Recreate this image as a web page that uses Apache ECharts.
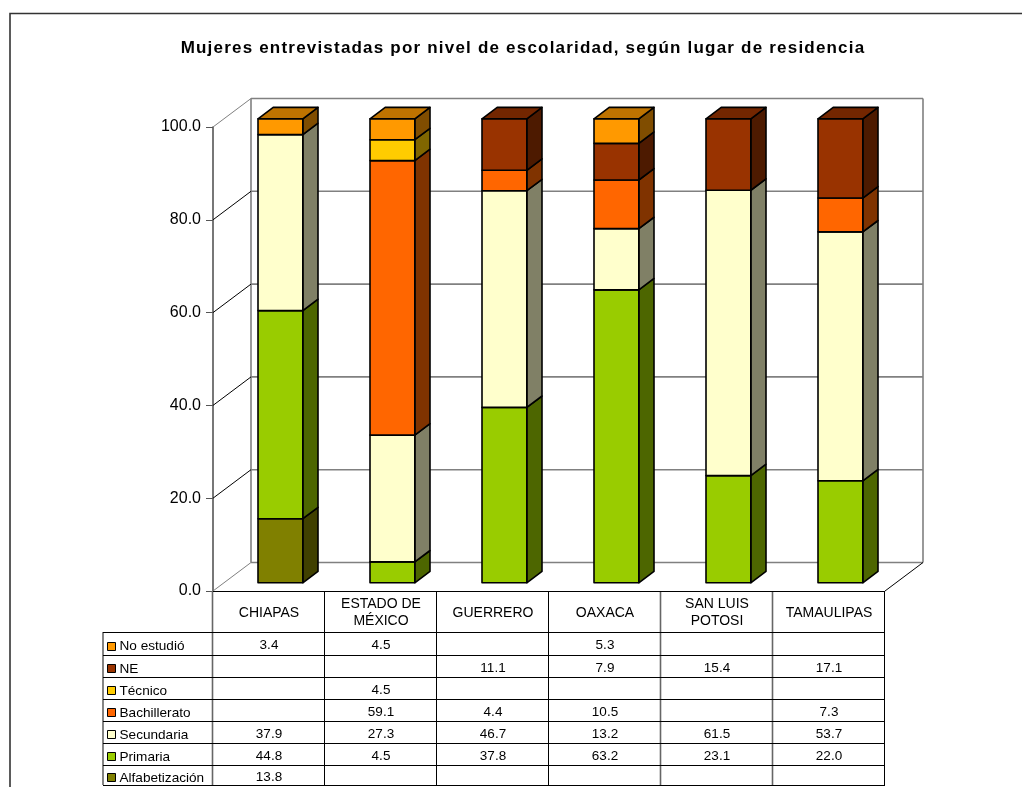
<!DOCTYPE html>
<html><head><meta charset="utf-8">
<style>html,body{margin:0;padding:0;background:#fff;overflow:hidden}#c{width:1022px;height:787px}</style>
<script src="https://cdn.jsdelivr.net/npm/echarts@6/dist/echarts.min.js"></script>
</head><body><div id="c"></div>
<script>
const titleText = 'Mujeres entrevistadas por nivel de escolaridad, según lugar de residencia';
const categories = ['CHIAPAS','ESTADO DE\nMÉXICO','GUERRERO','OAXACA','SAN LUIS\nPOTOSI','TAMAULIPAS'];
const yTicks = [0,20,40,60,80,100];
const alfabetizacion = [13.8,null,null,null,null,null];
const primaria = [44.8,4.5,37.8,63.2,23.1,22.0];
const secundaria = [37.9,27.3,46.7,13.2,61.5,53.7];
const bachillerato = [null,59.1,4.4,10.5,null,7.3];
const tecnico = [null,4.5,null,null,null,null];
const ne = [null,null,11.1,7.9,15.4,17.1];
const noEstudio = [3.4,4.5,null,5.3,null,null];
const levels = [
  {name:'Alfabetización',values:alfabetizacion,color:'#808000'},
  {name:'Primaria',values:primaria,color:'#99CC00'},
  {name:'Secundaria',values:secundaria,color:'#FFFFCC'},
  {name:'Bachillerato',values:bachillerato,color:'#FF6600'},
  {name:'Técnico',values:tecnico,color:'#FFCC00'},
  {name:'NE',values:ne,color:'#993300'},
  {name:'No estudió',values:noEstudio,color:'#FF9900'}
];
const DX=38, DY=28.5, GL=213, GT=127, GW=672, GH=464;
const rowLines=[632,655,677,699,721,743,765,785];
// the reference title is set with wide tracking, which the text style has no option for
const baseFillText=CanvasRenderingContext2D.prototype.fillText;
CanvasRenderingContext2D.prototype.fillText=function(t,x,y,m){
  this.letterSpacing=(t===titleText)?'1.2px':'0px';
  return m===undefined?baseFillText.call(this,t,x,y):baseFillText.call(this,t,x,y,m);
};
function shade(hex,k){
  const n=parseInt(hex.slice(1),16);
  return 'rgb('+[(n>>16)&255,(n>>8)&255,n&255].map(v=>Math.round(v*k)).join(',')+')';
}
const totals=categories.map((_,i)=>levels.reduce((s,l)=>s+(l.values[i]||0),0));
const running=categories.map(()=>0);
const barSeries=levels.map(l=>{
  const data=[];
  l.values.forEach((v,i)=>{
    if(v==null)return;
    const a=running[i];running[i]+=v;
    data.push([i,a/totals[i]*100,running[i]/totals[i]*100]);
  });
  return {name:l.name,type:'custom',coordinateSystem:'cartesian2d',silent:true,z:3,data,
    encode:{x:0,y:[1,2]},
    renderItem(p,api){
      const c=api.coord([api.value(0),api.value(1)]);
      const t=api.coord([api.value(0),api.value(2)]);
      const w=api.size([1,0])[0]*0.4;
      const ox=DX*0.3,oy=-8.2,dx=DX*0.4,dy=-DY*0.4;
      const L=c[0]-w/2+ox,R=L+w,B=c[1]+oy,T=t[1]+oy;
      const st={stroke:'#000',lineWidth:1.6,lineJoin:'round'};
      const isTop=Math.abs(api.value(2)-100)<1e-6;
      const kids=[
        {type:'polygon',shape:{points:[[R,B],[R+dx,B+dy],[R+dx,T+dy],[R,T]]},style:{...st,fill:shade(l.color,0.5)}},
        {type:'polygon',shape:{points:[[L,B],[R,B],[R,T],[L,T]]},style:{...st,fill:l.color}}
      ];
      if(isTop)kids.push({type:'polygon',shape:{points:[[L,T],[R,T],[R+dx,T+dy],[L+dx,T+dy]]},style:{...st,fill:shade(l.color,0.75)}});
      return {type:'group',children:kids};
    }};
});
const wallSeries={type:'custom',coordinateSystem:'cartesian2d',silent:true,z:1,
  data:yTicks.map(v=>[0,v]),encode:{x:0,y:1},
  renderItem(p,api){
    const g=p.coordSys,v=api.value(1),y=api.coord([0,v])[1];
    const x0=g.x,x1=g.x+g.width;
    const edge=(v===0||v===100);
    const kids=[
      {type:'line',shape:{x1:x0+DX,y1:y-DY,x2:x1+DX,y2:y-DY},style:{stroke:'#808080',lineWidth:1.6}},
      {type:'line',shape:{x1:x0,y1:y,x2:x0+DX,y2:y-DY},style:{stroke:edge?'#808080':'#000',lineWidth:1}}
    ];
    if(v===0){
      kids.push({type:'line',shape:{x1:x0+DX,y1:y-DY,x2:x0+DX,y2:g.y-DY},style:{stroke:'#808080',lineWidth:1.6}});
      kids.push({type:'line',shape:{x1:x1+DX,y1:y-DY,x2:x1+DX,y2:g.y-DY},style:{stroke:'#808080',lineWidth:1.6}});
      kids.push({type:'line',shape:{x1:x1,y1:y,x2:x1+DX,y2:y-DY},style:{stroke:'#000',lineWidth:1}});
    }
    return {type:'group',children:kids};
  }};
const rows=levels.slice().reverse();
const tableLines={type:'custom',coordinateSystem:'cartesian2d',silent:true,z:2,
  data:[[0,0]],encode:{x:0,y:1},
  renderItem(p,api){
    const g=p.coordSys,kids=[];
    const bot=g.y+g.height,step=g.width/categories.length;
    const ln=(a,b,c,d,col,w)=>kids.push({type:'line',shape:{x1:a,y1:b,x2:c,y2:d},style:{stroke:col||'#000',lineWidth:w||1}});
    for(let k=0;k<=categories.length;k++){
      const x=g.x+k*step-0.5;
      const soft=(k===0||k===4||k===5);
      ln(x,bot,x,rowLines[rowLines.length-1],soft?'#666':'#000',soft?1.6:1);
    }
    ln(g.x,bot+.5,g.x+g.width,bot+.5);
    ln(103,rowLines[0],103,rowLines[rowLines.length-1],'#666',1.6);
    rowLines.forEach(y=>ln(103,y+.5,g.x+g.width,y+.5));
    rows.forEach((r,i)=>{
      const mid=(rowLines[i]+rowLines[i+1])/2;
      kids.push({type:'rect',shape:{x:107.5,y:Math.round(mid-2)+.5,width:8,height:8},style:{fill:r.color,stroke:'#000',lineWidth:1}});
      kids.push({type:'text',style:{text:r.name,x:119.5,y:mid+3,fill:'#000',font:'13.6px "Liberation Sans"',textAlign:'left',textVerticalAlign:'middle'}});
    });
    return {type:'group',children:kids};
  }};
const cellData=[];
rows.forEach((r,ri)=>r.values.forEach((v,ci)=>{if(v!=null)cellData.push([ci,ri,v]);}));
const tableCells={type:'custom',coordinateSystem:'cartesian2d',silent:true,z:2,
  data:cellData,encode:{x:0},
  renderItem(p,api){
    const x=api.coord([api.value(0),0])[0],ri=api.value(1);
    return {type:'text',style:{text:api.value(2).toFixed(1),x,y:(rowLines[ri]+rowLines[ri+1])/2+2,fill:'#000',font:'13.5px "Liberation Sans"',textAlign:'center',textVerticalAlign:'middle'}};
  }};
const chart=echarts.init(document.getElementById('c'));
chart.setOption({
  animation:false,backgroundColor:'#fff',
  title:{text:titleText,left:523,top:40,padding:0,textAlign:'center',textStyle:{fontFamily:'Liberation Sans',fontSize:17,fontWeight:'bold',color:'#000'}},
  grid:{left:GL,top:GT,width:GW,height:GH,containLabel:false},
  graphic:[{type:'rect',silent:true,z:-1,shape:{x:10,y:13.5,width:1100,height:900},style:{fill:'none',stroke:'#333',lineWidth:1.6}}],
  xAxis:{type:'category',data:categories,boundaryGap:true,
    axisLine:{show:false},axisTick:{show:false},
    axisLabel:{interval:0,margin:22,verticalAlign:'middle',lineHeight:17,fontFamily:'Liberation Sans',fontSize:14,color:'#000'}},
  yAxis:{type:'value',min:0,max:100,interval:20,
    axisLine:{show:true,lineStyle:{color:'#555',width:1.6}},
    axisTick:{show:true,length:7,lineStyle:{color:'#555',width:1}},
    splitLine:{show:false},
    axisLabel:{margin:12,formatter:v=>v.toFixed(1),fontFamily:'Liberation Sans',fontSize:16,color:'#000'}},
  series:[wallSeries,tableLines,tableCells,...barSeries]
});
</script></body></html>
